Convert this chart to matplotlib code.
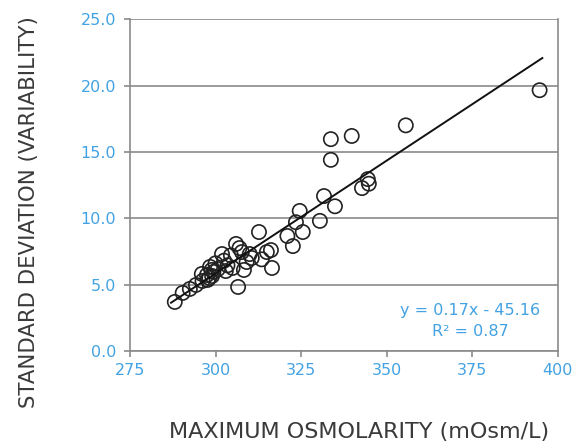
import matplotlib
matplotlib.use("Agg")
import matplotlib.pyplot as plt
import numpy as np

# Maximum osmolarity (mOsm/L) vs standard deviation
osmolarity = [288.1, 290.4, 292.5, 294.3, 296.2, 297.5, 298.9, 298.4, 297.7, 299.4,
              300.7, 301.9, 303.0, 305.0, 306.0, 306.6, 307.7, 308.3, 309.1, 310.6,
              312.7, 315.0, 316.2, 316.5, 321.0, 322.6, 323.5, 324.6, 325.5, 330.5,
              331.7, 334.9, 333.7, 333.7, 339.8, 342.8, 344.8, 344.5, 355.6, 394.7,
              296.0, 298.2, 300.0, 302.5, 304.5, 307.0, 310.0, 313.5, 299.0, 303.5]
std_dev = [3.69, 4.37, 4.67, 4.97, 5.27, 5.72, 6.10, 6.33, 5.35, 5.95,
           6.17, 7.30, 6.02, 6.25, 8.06, 4.82, 7.45, 6.10, 6.70, 7.00,
           8.96, 7.45, 7.60, 6.25, 8.66, 7.90, 9.70, 10.55, 8.96, 9.80,
           11.67, 10.90, 15.96, 14.40, 16.20, 12.27, 12.60, 12.95, 17.00, 19.65,
           5.80, 5.50, 6.60, 6.80, 7.20, 7.75, 7.30, 6.90, 5.65, 6.45]

slope, intercept = 0.17, -45.16
fit_x = [287.0, 395.5]

blue = "#42a2e3"
grey = "#8a8a8a"

fig = plt.figure(figsize=(5.75, 4.47), dpi=100)
ax = fig.add_axes([0.226, 0.215, 0.744, 0.742])

ax.scatter(osmolarity, std_dev, s=105, facecolors="none", edgecolors="#222222",
           linewidths=1.2, zorder=3)
fx = np.array(fit_x)
ax.plot(fx, slope * fx + intercept, color="#111111", lw=1.4, zorder=4)

ax.set_xlim(275, 400)
ax.set_ylim(0, 25)
ax.set_xticks([275, 300, 325, 350, 375, 400])
ax.set_yticks([0, 5, 10, 15, 20, 25])
ax.set_yticklabels([f"{v:.1f}" for v in [0, 5, 10, 15, 20, 25]])
ax.yaxis.grid(True, color=grey, lw=1.2)
ax.set_axisbelow(True)

for side in ["left", "bottom", "right"]:
    ax.spines[side].set_color(grey)
    ax.spines[side].set_linewidth(1.2)
ax.spines["top"].set_visible(False)

ax.tick_params(axis="both", colors=grey, length=4, width=1.2, labelcolor=blue,
               labelsize=11.5)
ax.tick_params(axis="y", pad=6)
ax.tick_params(axis="x", pad=5)

ax.text(0.795, 0.09, f"y = {slope:.2f}x - {abs(intercept):.2f}\nR² = 0.87",
        transform=ax.transAxes, ha="center", va="center", color=blue,
        fontsize=11.5, multialignment="center", linespacing=1.5)

label_font = dict(color="#3a3a3a")
fig.text(0.05, 0.526, "STANDARD DEVIATION (VARIABILITY)", rotation=90,
         ha="center", va="center", fontsize=15.3, **label_font)
fig.text(0.625, 0.034, "MAXIMUM OSMOLARITY (mOsm/L)", ha="center", va="center",
         fontsize=16, **label_font)

fig.savefig("out.png", dpi=100)
